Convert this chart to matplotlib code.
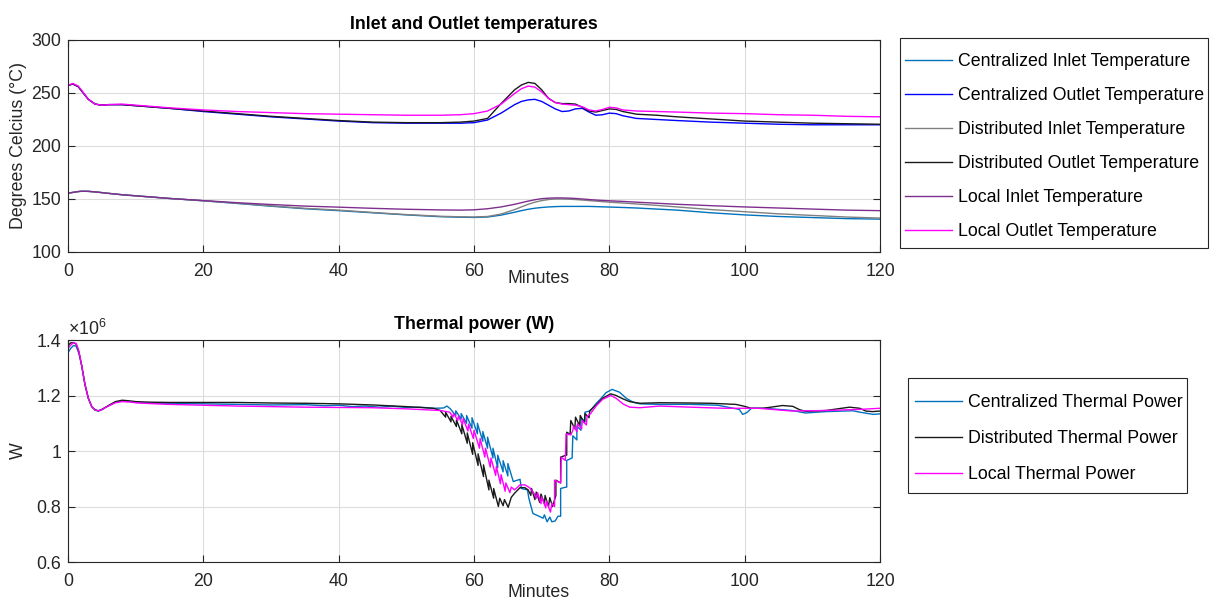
import numpy as np
import matplotlib
matplotlib.use('Agg')
import matplotlib.pyplot as plt
from matplotlib.patches import Rectangle
from matplotlib.ticker import FuncFormatter

plt.rcParams['font.family'] = ['Liberation Sans', 'DejaVu Sans']
plt.rcParams['mathtext.fontset'] = 'custom'
plt.rcParams['mathtext.rm'] = 'Liberation Sans'

# ---- temperatures (deg C) vs time (minutes) ----
t_temp = [0, 0.7, 1.5, 2, 3, 4, 5, 6, 8, 10,
          15, 20, 25, 30, 35, 40, 45, 50, 55, 58,
          60, 62, 64, 66, 67, 68, 69, 70, 71, 72,
          73, 74, 75, 76, 77, 78, 79, 80, 81, 82,
          84, 87, 90, 95, 100, 105, 110, 115, 120]

cen_inlet = [155.5, 156.2, 157, 157.3, 157.2, 156.7, 156, 155.3, 154, 153,
             150.5, 148.3, 145.8, 143.2, 140.8, 139, 137, 135, 133.3, 132.8,
             132.6, 133, 134.8, 137.5, 139, 140.3, 141.3, 142, 142.5, 142.8,
             143, 143, 143, 143, 143, 142.8, 142.6, 142.4, 142.2, 142,
             141.5, 140.5, 139.5, 137, 135, 133.5, 132.5, 131.5, 131]
cen_outlet = [257, 258.5, 256, 252, 244, 239.5, 238.5, 239, 239, 238,
              235.5, 232.5, 230, 227.5, 225.5, 223.5, 222, 221.5, 221.5, 221.5,
              222, 224.5, 231, 239, 242, 243.5, 244, 242, 238.5, 235,
              232.5, 233, 235, 235.5, 232, 229, 229.5, 231, 230.5, 228.5,
              226, 225, 224, 222.5, 221.5, 220.5, 220, 220, 220]
dist_inlet = [155.5, 156.2, 157, 157.3, 157.2, 156.7, 156, 155.3, 154, 153,
              150.5, 148.3, 146, 143.5, 141.2, 139.5, 137.3, 135.3, 133.7, 133.2,
              133, 133.5, 135.8, 140, 142.5, 145, 147, 148.5, 149.5, 150,
              150, 149.8, 149.5, 149, 148.5, 148, 147.5, 147, 146.6, 146.2,
              145.3, 144, 142.5, 140, 138, 136, 134.5, 133, 132]
dist_outlet = [257, 258.5, 256, 252, 244, 239.5, 238.5, 239, 239, 238,
               235.5, 233, 230.5, 228, 226, 224, 222.5, 222, 222, 222.5,
               223.5, 226, 240, 253, 257.5, 260, 259, 253, 245, 241,
               240, 240, 239.5, 236.5, 233, 232, 233.5, 235, 234.5, 232.5,
               230, 229, 227.5, 225.5, 223.5, 222.5, 221.5, 221, 220.5]
local_inlet = [155.5, 156.2, 157, 157.3, 157.2, 156.7, 156, 155.3, 154, 153,
               150.5, 148.5, 146.5, 144.8, 143.3, 142.3, 141.2, 140.3, 139.7, 139.5,
               139.8, 140.8, 142.5, 145, 146.5, 148, 149.3, 150.3, 150.8, 151,
               151, 150.8, 150.5, 150, 149.5, 149, 148.6, 148.3, 148, 147.7,
               147, 146, 145, 143.7, 142.5, 141.5, 140.5, 139.5, 139]
local_outlet = [257, 259, 256.5, 252.5, 244, 239.5, 238.5, 239, 239.5, 238.5,
                236, 234, 232.5, 231.5, 230.5, 230, 229.5, 229, 229, 229.5,
                230.5, 233, 239.5, 249.5, 254, 256.5, 255.5, 251, 245, 241,
                239.5, 239, 238.5, 237, 234, 233, 234.5, 236.5, 236, 234,
                233, 232.5, 232, 231, 230.5, 229.5, 229, 228, 227.5]

# ---- thermal power, (minute, W / 1e6) ----
cen_power = [(0, 1.355), (0.4, 1.37), (0.8, 1.38), (1.2, 1.378), (1.6, 1.352), (2.0, 1.31),
             (2.5, 1.24), (3.0, 1.19), (3.5, 1.16), (4.0, 1.147), (4.5, 1.144), (5.0, 1.149),
             (5.7, 1.159), (7, 1.176), (8, 1.18), (9, 1.178), (10, 1.175), (12, 1.173),
             (15, 1.171), (20, 1.17), (25, 1.168), (30, 1.166), (35, 1.167), (38, 1.163),
             (40, 1.165), (42, 1.16), (44, 1.162), (46, 1.158), (48, 1.161), (50, 1.157),
             (52, 1.158), (54, 1.154), (55.5, 1.155), (56.0, 1.162), (56.5, 1.152),
             (57.3, 1.128), (57.3, 1.145), (58.1, 1.115), (58.1, 1.135), (58.9, 1.1),
             (58.9, 1.128), (59.7, 1.082), (59.7, 1.12), (60.5, 1.062), (60.5, 1.1),
             (61.3, 1.035), (61.3, 1.07), (62.0, 1.01), (62.0, 1.05), (62.8, 0.975),
             (62.8, 1.01), (63.5, 0.94), (63.5, 0.985), (64.3, 0.925), (64.3, 0.965),
             (65.0, 0.91), (65.0, 0.955), (65.8, 0.89), (66.8, 0.898), (67.0, 0.865),
             (67.9, 0.86), (68.1, 0.83), (68.7, 0.775), (69.6, 0.765), (70.2, 0.758),
             (70.4, 0.77), (70.8, 0.745), (71.2, 0.762), (71.5, 0.745), (72.0, 0.748),
             (72.4, 0.765), (72.8, 0.765), (72.8, 0.865), (73.6, 0.87), (73.7, 0.87),
             (73.7, 0.966), (74.5, 0.975), (74.6, 1.055), (75.2, 1.04), (75.2, 1.09),
             (75.8, 1.075), (75.8, 1.12), (76.4, 1.105), (76.4, 1.14), (77.2, 1.145),
             (78.0, 1.17), (78.6, 1.185), (79.5, 1.21), (80.4, 1.222), (81.5, 1.212),
             (82.5, 1.19), (83.5, 1.176), (84.5, 1.17), (87.4, 1.168), (92, 1.168),
             (96, 1.165), (99.2, 1.15), (99.7, 1.132), (100.3, 1.138), (101, 1.154),
             (103, 1.154), (107, 1.146), (109, 1.137), (112, 1.142), (116, 1.145),
             (117, 1.14), (119, 1.132), (120, 1.134)]

dist_power = [(0, 1.38), (0.4, 1.39), (0.8, 1.39), (1.2, 1.385), (1.6, 1.358), (2.0, 1.31),
              (2.5, 1.24), (3.0, 1.19), (3.5, 1.16), (4.0, 1.148), (4.5, 1.145), (5.0, 1.15),
              (5.7, 1.16), (7, 1.178), (8, 1.183), (9, 1.181), (10, 1.178), (12, 1.176),
              (15, 1.175), (20, 1.175), (25, 1.175), (30, 1.173), (35, 1.172), (40, 1.17),
              (45, 1.166), (50, 1.16), (54, 1.154), (55.0, 1.146), (55.8, 1.122), (55.8, 1.14),
              (56.6, 1.105), (56.6, 1.125), (57.4, 1.088), (57.4, 1.112), (58.2, 1.062),
              (58.2, 1.095), (59.0, 1.028), (59.0, 1.065), (59.8, 0.988), (59.8, 1.03),
              (60.6, 0.948), (60.6, 0.99), (61.4, 0.908), (61.4, 0.95), (62.2, 0.86),
              (62.2, 0.895), (62.9, 0.83), (62.9, 0.865), (63.6, 0.8), (63.8, 0.83),
              (64.3, 0.803), (64.5, 0.825), (65.05, 0.797), (65.5, 0.833), (66.0, 0.848),
              (66.8, 0.868), (67.5, 0.868), (68.0, 0.86), (68.4, 0.84), (68.5, 0.865),
              (69.0, 0.825), (69.2, 0.852), (69.7, 0.815), (69.9, 0.845), (70.4, 0.81),
              (70.5, 0.84), (71.0, 0.8), (71.2, 0.832), (71.6, 0.8), (72.1, 0.84),
              (72.1, 0.895), (72.8, 0.885), (72.8, 0.978), (73.6, 0.985), (73.7, 0.985),
              (73.7, 1.068), (74.2, 1.06), (74.3, 1.11), (74.9, 1.08), (75.0, 1.122),
              (75.6, 1.092), (75.7, 1.128), (76.3, 1.102), (76.4, 1.135), (77.0, 1.12),
              (77.1, 1.145), (78.0, 1.165), (79.0, 1.19), (80.2, 1.206), (81.0, 1.2),
              (82.0, 1.188), (83.0, 1.178), (84.5, 1.172), (87.4, 1.174), (92, 1.173),
              (95, 1.172), (98.7, 1.168), (99.8, 1.162), (101, 1.154), (102.7, 1.154),
              (105.6, 1.164), (107.1, 1.161), (108.1, 1.149), (109, 1.143), (112, 1.146),
              (115.5, 1.158), (117, 1.154), (117.9, 1.144), (118.9, 1.142), (120, 1.144)]

local_power = [(0, 1.37), (0.4, 1.382), (0.8, 1.39), (1.2, 1.388), (1.6, 1.36), (2.0, 1.31),
               (2.5, 1.24), (3.0, 1.19), (3.5, 1.16), (4.0, 1.148), (4.5, 1.145), (5.0, 1.149),
               (5.7, 1.159), (7, 1.174), (8, 1.178), (9, 1.177), (10, 1.174), (12, 1.171),
               (15, 1.168), (20, 1.165), (25, 1.162), (30, 1.16), (35, 1.158), (40, 1.157),
               (45, 1.156), (50, 1.152), (55.0, 1.146), (56.4, 1.14), (56.9, 1.122),
               (57.0, 1.136), (57.6, 1.11), (57.7, 1.126), (58.3, 1.095), (58.4, 1.117),
               (59.1, 1.072), (59.2, 1.097), (59.9, 1.045), (60.0, 1.075), (60.8, 1.01),
               (60.9, 1.045), (61.6, 0.978), (61.7, 1.01), (62.4, 0.942), (62.5, 0.975),
               (63.2, 0.912), (63.3, 0.945), (63.9, 0.882), (64.0, 0.915), (64.6, 0.855),
               (64.7, 0.885), (65.3, 0.85), (65.5, 0.87), (66.0, 0.86), (66.8, 0.878),
               (67.5, 0.878), (68.2, 0.868), (68.8, 0.85), (69.2, 0.83), (69.4, 0.85),
               (69.9, 0.81), (70.0, 0.835), (70.6, 0.795), (70.7, 0.82), (71.3, 0.78),
               (71.5, 0.812), (71.9, 0.8), (71.9, 0.895), (72.8, 0.885), (72.9, 0.978),
               (73.5, 0.966), (73.6, 1.062), (74.3, 1.058), (74.6, 1.074), (74.7, 1.09),
               (75.2, 1.07), (75.3, 1.098), (75.9, 1.08), (76.0, 1.11), (76.6, 1.094),
               (76.7, 1.125), (77.2, 1.134), (78.1, 1.164), (79.0, 1.186), (80.2, 1.2),
               (81.0, 1.19), (82.0, 1.17), (83.0, 1.158), (84.5, 1.156), (87.4, 1.162),
               (92, 1.158), (97, 1.154), (102, 1.154), (107, 1.144), (112, 1.146),
               (117, 1.15), (120, 1.154)]

temp_labels = ['Centralized Inlet Temperature', 'Centralized Outlet Temperature',
               'Distributed Inlet Temperature', 'Distributed Outlet Temperature',
               'Local Inlet Temperature', 'Local Outlet Temperature']
power_labels = ['Centralized Thermal Power', 'Distributed Thermal Power', 'Local Thermal Power']

temp_colors = ['#0072BD', '#0000FF', '#808080', '#1a1a1a', '#7E2F8E', '#FF00FF']
power_colors = ['#0072BD', '#1a1a1a', '#FF00FF']

FS = 12.8
INK = '#262626'


def style_axes(ax):
    ax.set_xlim(0, 120)
    ax.set_xticks(range(0, 121, 20))
    ax.grid(True, color='#dcdcdc', linewidth=0.8)
    ax.set_axisbelow(True)
    ax.tick_params(direction='in', top=True, right=True, length=5, width=0.8,
                   colors=INK, labelsize=FS, pad=5)
    ax.tick_params(axis='x', pad=8)
    for s in ax.spines.values():
        s.set_color(INK)
        s.set_linewidth(0.8)


fig = plt.figure(figsize=(12.17, 6.02), dpi=100)
ax1 = fig.add_axes([0.0559, 0.5814, 0.6672, 0.3522])
ax2 = fig.add_axes([0.0559, 0.0664, 0.6672, 0.3688])

# top panel: inlet / outlet temperatures
temps = [cen_inlet, cen_outlet, dist_inlet, dist_outlet, local_inlet, local_outlet]
h1 = []
for vals, c in zip(temps, temp_colors):
    ln, = ax1.plot(t_temp, vals, color=c, lw=1.0)
    h1.append(ln)
style_axes(ax1)
ax1.set_ylim(100, 300)
ax1.set_yticks(range(100, 301, 50))
ax1.set_title('Inlet and Outlet temperatures', fontsize=FS, fontweight='bold', color='black', pad=8)
ax1.set_xlabel('Minutes', fontsize=FS, color=INK)
ax1.xaxis.set_label_coords(0.579, -0.083)
ax1.set_ylabel('Degrees Celcius (°C)', fontsize=FS, color=INK)
ax1.yaxis.set_label_coords(-0.051, 0.5)

# bottom panel: thermal power
h2 = []
for pts, c in zip([cen_power, dist_power, local_power], power_colors):
    t, p = zip(*pts)
    ln, = ax2.plot(t, np.array(p) * 1e6, color=c, lw=1.0)
    h2.append(ln)
style_axes(ax2)
ax2.set_ylim(0.6e6, 1.4e6)
ax2.set_yticks(np.arange(0.6, 1.41, 0.2) * 1e6)
ax2.yaxis.set_major_formatter(FuncFormatter(lambda v, _: f'{v / 1e6:g}'))
ax2.text(0, 1.005, r'$\times10^{6}$', transform=ax2.transAxes, ha='left', va='bottom',
         fontsize=FS, color=INK)
ax2.set_title('Thermal power (W)', fontsize=FS, fontweight='bold', color='black', pad=8)
ax2.set_xlabel('Minutes', fontsize=FS, color=INK)
ax2.xaxis.set_label_coords(0.579, -0.1)
ax2.set_ylabel('W', fontsize=FS, color=INK)
ax2.yaxis.set_label_coords(-0.051, 0.5)

# legends with square boxes beside each panel
leg_kw = dict(frameon=False, fontsize=FS, handlelength=2.64, handletextpad=0.35,
              borderpad=0, borderaxespad=0, labelcolor='black')
fig.legend(h1, temp_labels, loc='upper left', bbox_to_anchor=(0.7436, 0.912),
           labelspacing=0.96, **leg_kw)
fig.legend(h2, power_labels, loc='upper left', bbox_to_anchor=(0.7518, 0.345),
           labelspacing=1.07, **leg_kw)
for x0, y0, w, h in [(0.7395, 0.588, 0.2531, 0.3488), (0.7461, 0.1811, 0.2293, 0.191)]:
    fig.add_artist(Rectangle((x0, y0), w, h, transform=fig.transFigure, fill=False,
                             ec=INK, lw=0.8))

fig.savefig('out.png', dpi=100, facecolor='white')
